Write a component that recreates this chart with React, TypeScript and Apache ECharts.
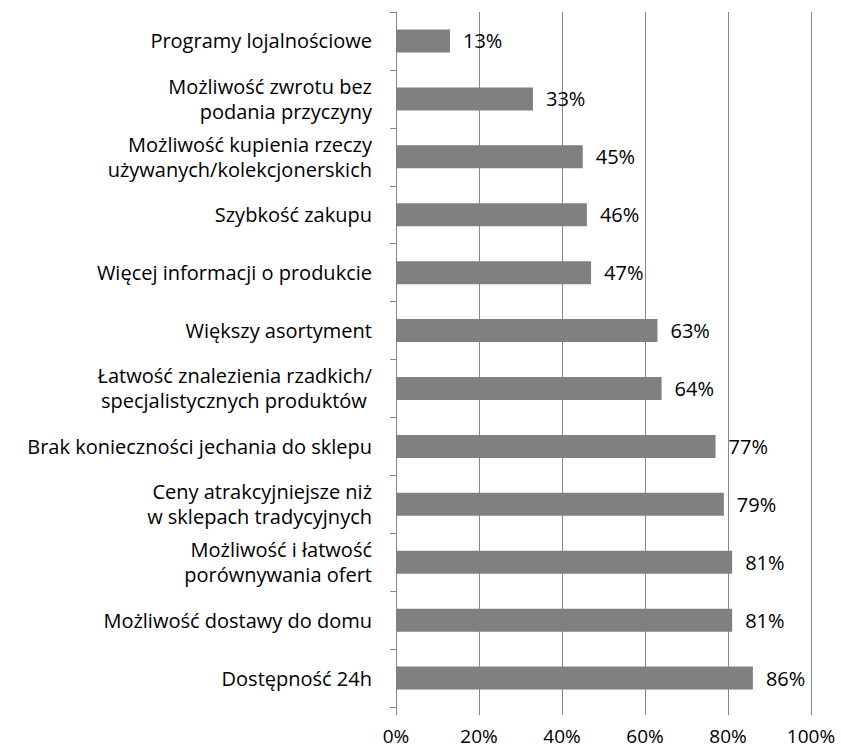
import React, { useEffect, useRef } from "react";
import * as echarts from "echarts";

const categories = [
  "Programy lojalnościowe",
  "Możliwość zwrotu bez\npodania przyczyny",
  "Możliwość kupienia rzeczy\nużywanych/kolekcjonerskich",
  "Szybkość zakupu",
  "Więcej informacji o produkcie",
  "Większy asortyment",
  "Łatwość znalezienia rzadkich/\nspecjalistycznych produktów ",
  "Brak konieczności jechania do sklepu",
  "Ceny atrakcyjniejsze niż\nw sklepach tradycyjnych",
  "Możliwość i łatwość\nporównywania ofert",
  "Możliwość dostawy do domu",
  "Dostępność 24h",
];
const values = [13, 33, 45, 46, 47, 63, 64, 77, 79, 81, 81, 86];

const FONT = "Open Sans";
const FS = 20;

export default function App() {
  const ref = useRef<HTMLDivElement>(null);
  useEffect(() => {
    const chart = echarts.init(ref.current!, null, { renderer: "svg" });
    chart.setOption({
      animation: false,
      backgroundColor: "#ffffff",
      grid: { left: 396, right: 30, top: 12, bottom: 42, containLabel: false },
      xAxis: {
        type: "value",
        min: 0,
        max: 100,
        interval: 20,
        axisLine: { show: false },
        axisTick: { show: true, length: 8, lineStyle: { color: "#868686" } },
        splitLine: { show: true, lineStyle: { color: "#868686", width: 1 } },
        axisLabel: {
          formatter: "{value}%",
          color: "#000",
          fontFamily: FONT,
          fontSize: 19,
          lineHeight: 20,
          margin: 19,
        },
      },
      yAxis: {
        type: "category",
        data: categories,
        inverse: true,
        axisLine: { show: true, lineStyle: { color: "#868686", width: 1 } },
        axisTick: { show: true, length: 6, lineStyle: { color: "#868686" } },
        axisLabel: {
          color: "#000",
          fontFamily: FONT,
          fontSize: FS,
          lineHeight: 25,
          margin: 24,
          align: "right",
        },
      },
      series: [
        {
          type: "bar",
          data: values,
          barWidth: 23,
          itemStyle: { color: "#808080" },
          label: {
            show: true,
            position: "right",
            distance: 13,
            formatter: "{c}%",
            color: "#000",
            fontFamily: FONT,
            fontSize: FS,
          },
        },
      ],
    });
    return () => chart.dispose();
  }, []);
  return (
    <div
      ref={ref}
      style={{ position: "absolute", left: 0, top: 0, width: 841, height: 749 }}
    />
  );
}
